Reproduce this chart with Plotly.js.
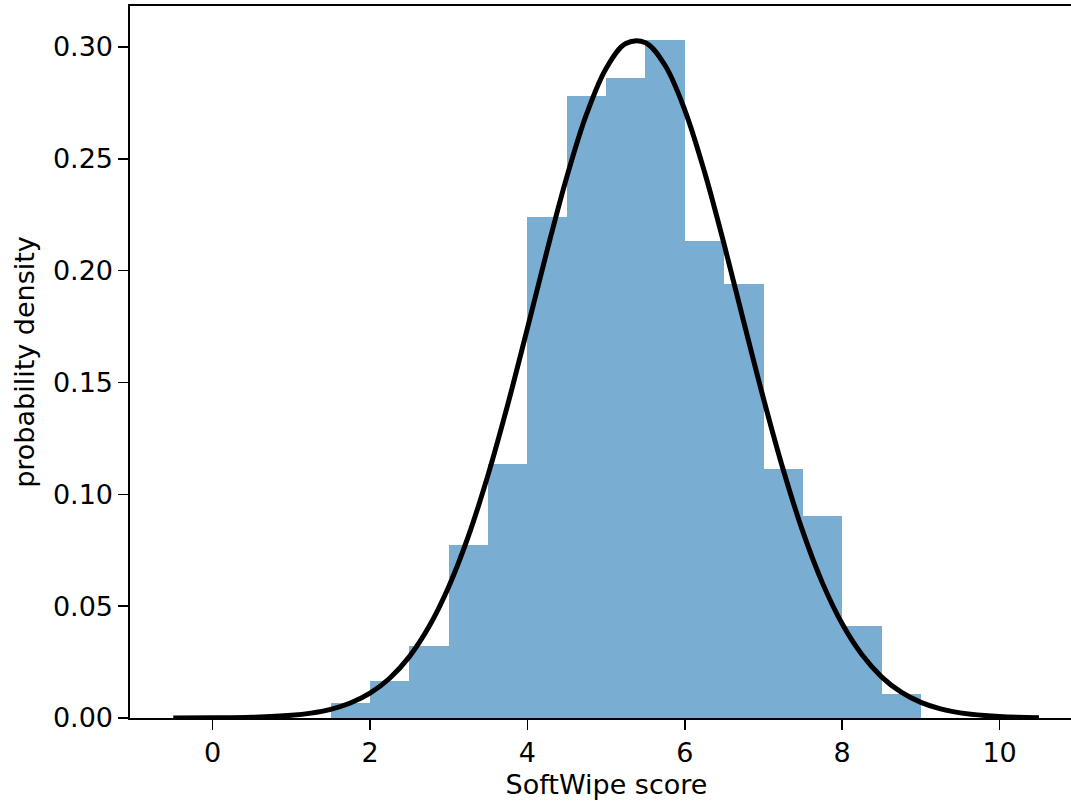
<!DOCTYPE html>
<html>
<head>
<meta charset="utf-8">
<script src="https://cdn.plot.ly/plotly-3.0.1.min.js"></script>
<style>
html,body{margin:0;padding:0;overflow:hidden;background:#fff;}
#chart{width:1083px;height:802px;}
</style>
</head>
<body>
<div id="chart"></div>
<script>
// Histogram bins (left edges) and probability densities
const binLeft = [1.5, 2.0, 2.5, 3.0, 3.5, 4.0, 4.5, 5.0, 5.5, 6.0, 6.5, 7.0, 7.5, 8.0, 8.5];
const binDensity = [0.0067, 0.0167, 0.0321, 0.0772, 0.1135, 0.2238, 0.2780, 0.2862, 0.3031, 0.2133, 0.1938, 0.1112, 0.0902, 0.0411, 0.0106];
const binWidth = 0.5;

// Fitted curve points
const curveX = [-0.5, 0, 0.5, 1.0, 1.25, 1.5, 1.75, 2.0, 2.25, 2.5, 2.75, 3.0, 3.25, 3.5, 3.75, 4.0, 4.25, 4.5, 4.75, 5.0, 5.25, 5.5, 5.75, 6.0, 6.25, 6.5, 6.75, 7.0, 7.25, 7.5, 7.75, 8.0, 8.25, 8.5, 8.75, 9.0, 9.25, 9.5, 10.0, 10.5];
const curveY = [0.00001, 0.00007, 0.00031, 0.00118, 0.00218, 0.00389, 0.00669, 0.01109, 0.01777, 0.02743, 0.04087, 0.05869, 0.0813, 0.1087, 0.1401, 0.1742, 0.2090, 0.2418, 0.2698, 0.2904, 0.3015, 0.3019, 0.2917, 0.2718, 0.2442, 0.2117, 0.1770, 0.1428, 0.1111, 0.0833, 0.0603, 0.0421, 0.02835, 0.01841, 0.01153, 0.00697, 0.00406, 0.00228, 0.00065, 0.00016];

const xTicks = [0, 2, 4, 6, 8, 10];
const yTicks = [0.00, 0.05, 0.10, 0.15, 0.20, 0.25, 0.30];

const font = {family: 'DejaVu Sans, sans-serif', size: 27, color: '#000'};

const traces = [
  {
    type: 'bar',
    x: binLeft,
    y: binDensity,
    width: binLeft.map(() => binWidth),
    offset: 0,
    marker: {color: 'rgb(31,119,180)', opacity: 0.6, line: {width: 0}},
    hoverinfo: 'skip'
  },
  {
    type: 'scatter',
    mode: 'lines',
    x: curveX,
    y: curveY,
    line: {color: '#000', width: 5, shape: 'spline', smoothing: 1},
    hoverinfo: 'skip'
  }
];

const layout = {
  width: 1083,
  height: 802,
  margin: {l: 130, r: 0, t: 6, b: 84, pad: 0},
  paper_bgcolor: '#fff',
  plot_bgcolor: '#fff',
  showlegend: false,
  bargap: 0,
  font: font,
  xaxis: {
    range: [-1.05, 11.06],
    tickvals: xTicks,
    ticktext: xTicks.map(String),
    ticks: 'outside',
    ticklen: 10,
    tickwidth: 1.5,
    tickcolor: '#000',
    showgrid: false,
    zeroline: false,
    showline: true,
    linecolor: '#000',
    linewidth: 1.6,
    mirror: true,
    tickfont: font,
    title: {text: 'SoftWipe score', font: font, standoff: 8},
    automargin: false
  },
  yaxis: {
    range: [0, 0.3183],
    tickvals: yTicks,
    ticktext: yTicks.map(v => v.toFixed(2)),
    ticks: 'outside',
    ticklen: 10,
    tickwidth: 1.5,
    tickcolor: '#000',
    showgrid: false,
    zeroline: false,
    showline: true,
    linecolor: '#000',
    linewidth: 1.6,
    mirror: true,
    tickfont: font,
    title: {text: 'probability density', font: font, standoff: 10},
    automargin: false
  }
};

Plotly.newPlot('chart', traces, layout, {displayModeBar: false, staticPlot: true});
</script>
</body>
</html>
